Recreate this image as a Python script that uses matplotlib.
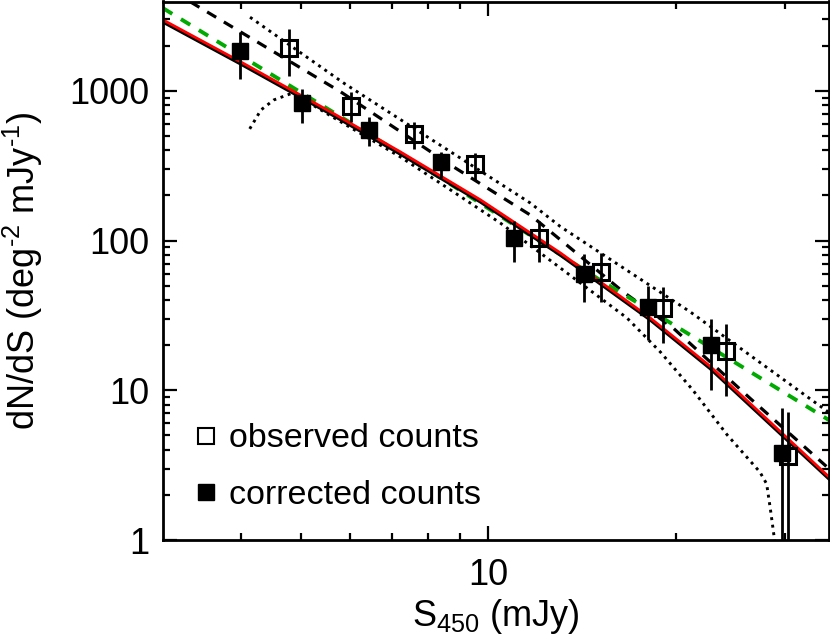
import numpy as np
import matplotlib
matplotlib.use("Agg")
import matplotlib.pyplot as plt
from matplotlib.lines import Line2D

plt.rcParams['font.family'] = ['Liberation Sans', 'DejaVu Sans']
plt.rcParams['mathtext.fontset'] = 'custom'
plt.rcParams['mathtext.rm'] = 'Liberation Sans'

# observed counts (open squares)
obs_s = [4.78, 6.02, 7.59, 9.53, 12.04, 15.17, 19.11, 24.1, 30.3]
obs_n = [1926, 793, 513, 323, 104.5, 61.4, 35.3, 18.4, 3.64]
obs_hi = [2579, 988, 623, 387, 136, 83, 48.8, 27.6, 7.2]
obs_lo = [1259, 623, 407, 254, 71.6, 39, 20.8, 9.2, 0.1]

# corrected counts (filled squares)
cor_s = [3.99, 5.01, 6.43, 8.38, 11.01, 14.26, 18.02, 22.78, 29.6]
cor_n = [1856, 826, 548, 333, 103.6, 59.8, 35.8, 20.1, 3.80]
cor_hi = [2485, 1025, 666, 393, 136, 81, 49.7, 29.9, 7.6]
cor_lo = [1201, 613, 430, 261, 71.6, 39, 21.7, 10.05, 0.1]

# model curves
red_s = [3.0, 4.0, 5.58, 7.22, 9.71, 13.05, 18.2, 22.7, 35.4]
red_n = [2976, 1560, 723, 391, 187, 82.7, 30.4, 14.5, 2.6]

blk_s = [3.0, 4.0, 5.58, 7.22, 9.71, 13.05, 18.2, 22.7, 35.4]
blk_n = [2880, 1510, 700, 378, 181, 80, 29.5, 14.0, 2.52]

dash_s = [3.32, 5.79, 8.69, 11.68, 13.54, 16.47, 19.8, 26.3, 35.4]
dash_n = [3926, 984, 320, 148, 89.2, 45.4, 26.1, 8.88, 2.95]

green_s = [3.0, 4.87, 8.47, 15.1, 18.9, 35.4]
green_n = [3564, 1041, 255, 54.6, 31.0, 6.26]

up_s = [4.14, 5.86, 7.97, 11.68, 13.05, 21.1, 35.4]
up_n = [3102, 1124, 494, 178, 124, 33.4, 7.02]

low_s = [4.135, 4.31, 4.52, 4.85, 5.58, 7.22, 8.69, 10.45, 13.05, 16.7,
         18.9, 21.3, 24.2, 27.3, 28.0, 28.4, 28.9]
low_n = [557, 745, 869, 968, 680, 362, 218, 131, 65.6, 30.4,
         18.0, 10.05, 5.03, 2.85, 2.37, 1.59, 0.93]

fig = plt.figure(figsize=(8.30, 6.39), dpi=100)
ax = fig.add_axes([163 / 830, 99 / 639, 665.5 / 830, 538.5 / 639])

ax.plot(up_s, up_n, color='black', lw=2.1, ls=(0, (1, 1.6)))
ax.plot(low_s, low_n, color='black', lw=2.1, ls=(0, (1, 1.6)))
ax.plot(dash_s, dash_n, color='black', lw=2.3, ls=(0, (3.3, 2.8)))
ax.plot(green_s, green_n, color='#00aa00', lw=2.8, ls=(0, (2.8, 2.6)))
ax.plot(blk_s, blk_n, color='black', lw=2.3)
ax.plot(red_s, red_n, color='red', lw=2.0)

obs_n_a = np.array(obs_n)
cor_n_a = np.array(cor_n)
ax.errorbar(obs_s, obs_n, yerr=[obs_n_a - obs_lo, np.array(obs_hi) - obs_n_a],
            fmt='s', ms=12, mfc='none', mec='black', mew=2.2,
            ecolor='black', elinewidth=2.0, capsize=0, zorder=5)
ax.errorbar(cor_s, cor_n, yerr=[cor_n_a - cor_lo, np.array(cor_hi) - cor_n_a],
            fmt='s', ms=12, mfc='black', mec='black',
            ecolor='black', elinewidth=2.0, capsize=0, zorder=6)

ax.set_xscale('log')
ax.set_yscale('log')
ax.set_xlim(3.0, 35.2)
ax.set_ylim(1, 3950)

ax.set_xticks([10])
ax.set_xticklabels(['10'])
ax.set_xticks([4, 5, 6, 7, 8, 9, 20, 30], minor=True)
ax.set_xticklabels([], minor=True)
ax.set_yticks([1, 10, 100, 1000])
ax.set_yticklabels(['1', '10', '100', '1000'])

ax.tick_params(which='both', direction='in', top=True, right=True,
               labelsize=26, width=1.6, pad=10)
ax.tick_params(axis='x', which='both', pad=13)
ax.tick_params(which='major', length=10)
ax.tick_params(which='minor', length=5)
for sp in ax.spines.values():
    sp.set_linewidth(2.0)

ax.set_xlabel('S$_{450}$ (mJy)', fontsize=26, labelpad=3)
ax.set_ylabel(r'dN/dS (deg$^{\text{-2}}$ mJy$^{\text{-1}}$)', fontsize=26, labelpad=17)

handles = [
    Line2D([], [], marker='s', ls='none', ms=12, mfc='none', mec='black', mew=1.5),
    Line2D([], [], marker='s', ls='none', ms=12, mfc='black', mec='black'),
]
ax.legend(handles, ['observed counts', 'corrected counts'], loc='lower left',
          bbox_to_anchor=(-0.0075, -0.003), frameon=False, fontsize=24.5,
          handlelength=1.0, handletextpad=0.2, labelspacing=0.75)

fig.savefig('out.png', dpi=100)
